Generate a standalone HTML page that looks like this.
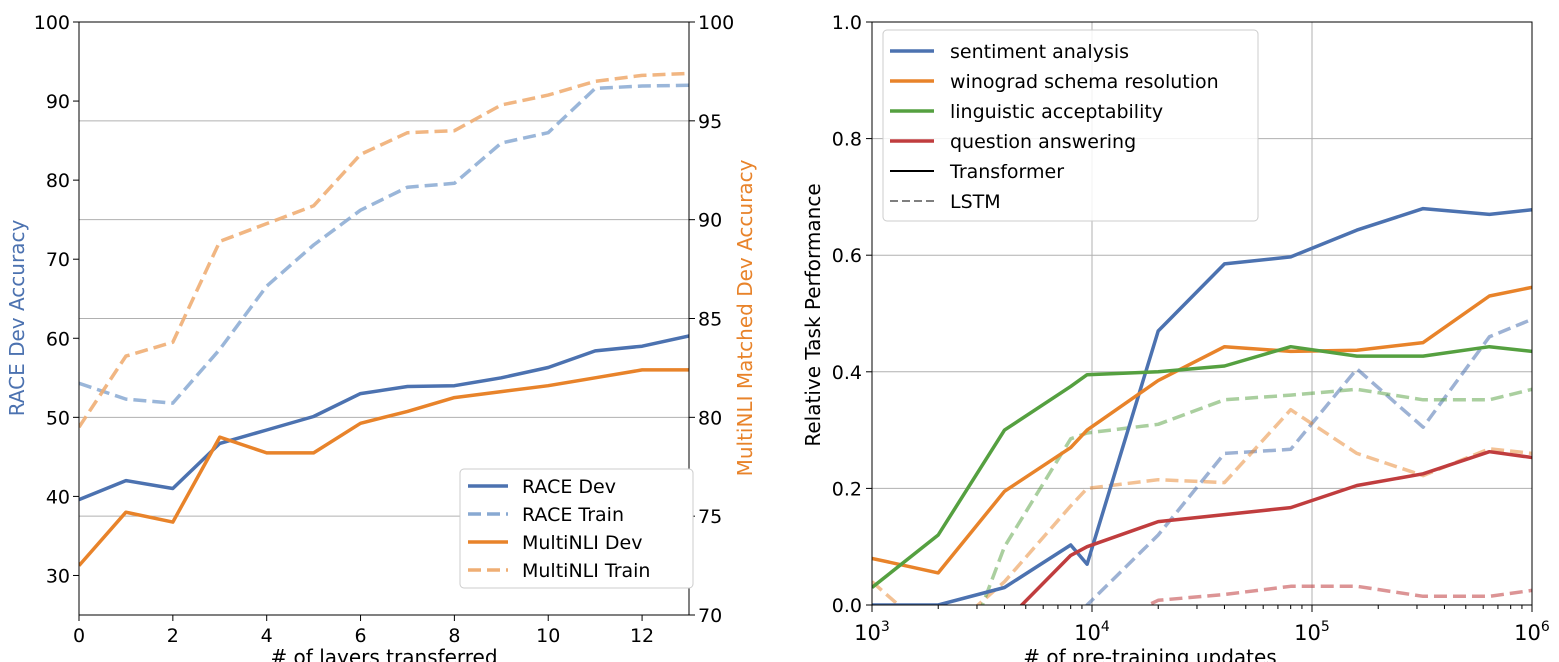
<!DOCTYPE html>
<html><head><meta charset="utf-8"><style>
body{margin:0;background:#fff;overflow:hidden;}
svg text{font-family:"DejaVu Sans","Liberation Sans",sans-serif;fill:#000;}
</style></head><body>
<svg id="c" width="1559" height="662" xmlns="http://www.w3.org/2000/svg" style="display:block">
<defs>
<clipPath id="clipL"><rect x="79" y="22" width="610" height="593"/></clipPath>
<clipPath id="clipR"><rect x="872" y="22" width="660" height="583"/></clipPath>
</defs>
<g id="left"></g>
<g id="right"></g>
</svg>
<script>
const layers=[0,1,2,3,4,5,6,7,8,9,10,11,12,13];
const raceDev=[39.6,42,41,46.7,48.4,50.1,53,53.9,54,55,56.3,58.4,59,60.3];
const raceTrain=[54.3,52.3,51.8,58.6,66.6,71.8,76.2,79.1,79.6,84.7,86,91.6,91.9,92];
const mnliDev=[72.5,75.2,74.7,79.0,78.2,78.2,79.7,80.3,81.0,81.3,81.6,82.0,82.4,82.4];
const mnliTrain=[79.5,83.1,83.8,88.9,89.8,90.7,93.3,94.4,94.5,95.8,96.3,97,97.3,97.4];
const leftTicks=[30,40,50,60,70,80,90,100];
const rightTicks=[70,75,80,85,90,95,100];
const xTicksL=[0,2,4,6,8,10,12];

const updates=[1000,2000,4000,8000,9500,20000,40000,80000,160000,320000,640000,1000000];
const sentT=[0,0,0.03,0.103,0.07,0.47,0.585,0.597,0.643,0.68,0.67,0.678];
const winoT=[0.08,0.055,0.195,0.27,0.3,0.385,0.443,0.435,0.437,0.45,0.53,0.545];
const lingT=[0.03,0.12,0.3,0.375,0.395,0.4,0.41,0.443,0.427,0.427,0.443,0.435];
const qaT=[null,null,-0.03,0.085,0.1,0.143,0.155,0.167,0.205,0.225,0.263,0.253];
const sentL=[null,null,null,-0.1,0,0.12,0.26,0.267,0.405,0.305,0.46,0.49];
const winoL=[0.04,-0.06,0.04,0.17,0.2,0.215,0.21,0.335,0.26,0.222,0.268,0.26];
const lingL=[null,-0.2,0.1,0.285,0.295,0.31,0.352,0.36,0.37,0.352,0.352,0.37];
const qaL=[null,null,null,-0.08,-0.05,0.008,0.018,0.032,0.032,0.015,0.015,0.025];
const yTicksR=[0,0.2,0.4,0.6,0.8,1.0];
const xDecades=[3,4,5,6];

const NS="http://www.w3.org/2000/svg";
function mk(p,t,a){const e=document.createElementNS(NS,t);for(const k in a)e.setAttribute(k,a[k]);p.appendChild(e);return e;}
function txt(p,x,y,s,anchor,size,extra){const e=mk(p,'text',Object.assign({x:x,y:y,'text-anchor':anchor,'font-size':size},extra||{}));e.textContent=s;return e;}

// LEFT
const L=document.getElementById('left');
const lx=v=>79+v*(610/13), ly=v=>22+(100-v)*(593/75), ry=v=>22+(100-v)*(593/30);
rightTicks.slice(1,-1).forEach(v=>{const g=mk(L,'line',{x1:79,x2:689,y1:ry(v),y2:ry(v),stroke:'#b0b0b0','stroke-width':1});

});
function series(p,xs,ys,xf,yf,color,dash,op,name,clip){
 let d='';let pen=false;ys.forEach((v,i)=>{if(v===null){pen=false;return;}d+=(pen?'L':'M')+xf(xs[i]).toFixed(1)+','+yf(v).toFixed(1);pen=true;});
 const e=mk(p,'path',{d:d,fill:'none',stroke:color,'stroke-width':3.5,'stroke-opacity':op,'clip-path':'url(#'+clip+')','stroke-linejoin':'round'});
 if(dash)e.setAttribute('stroke-dasharray','13,6');
 
 
}
const BL='#4c72b0',OR='#e8832a',GR='#55a040',RD='#c03d3e';
series(L,layers,raceTrain,lx,ly,'#88a9d2',true,0.85,'race-train-line','clipL');
series(L,layers,mnliTrain,lx,ry,'#efae74',true,0.9,'multinli-train-line','clipL');
series(L,layers,raceDev,lx,ly,BL,false,1,'race-dev-line','clipL');
series(L,layers,mnliDev,lx,ry,OR,false,1,'multinli-dev-line','clipL');
mk(L,'rect',{x:79,y:22,width:610,height:593,fill:'none',stroke:'#000','stroke-width':1});
leftTicks.forEach(v=>{mk(L,'line',{x1:73,x2:79,y1:ly(v),y2:ly(v),stroke:'#000'});txt(L,70,ly(v)+7,String(v),'end',19);});
rightTicks.forEach(v=>{mk(L,'line',{x1:689,x2:695,y1:ry(v),y2:ry(v),stroke:'#000'});txt(L,698,ry(v)+7,String(v),'start',19);});
xTicksL.forEach(v=>{mk(L,'line',{x1:lx(v),x2:lx(v),y1:615,y2:621,stroke:'#000'});txt(L,lx(v),642,String(v),'middle',19);});
txt(L,384,664,'# of layers transferred','middle',20,{});
txt(L,24,318,'RACE Dev Accuracy','middle',20,{transform:'rotate(-90 24 318)',style:'fill:#4c72b0',});
txt(L,752,318,'MultiNLI Matched Dev Accuracy','middle',20,{transform:'rotate(-90 752 318)',style:'fill:#e8832a',});
const lg=mk(L,'g',{});
mk(lg,'rect',{x:460,y:469,width:233,height:119,fill:'#fff',stroke:'#ccc',rx:4});
[['RACE Dev',BL,false],['RACE Train','#88a9d2',true],['MultiNLI Dev',OR,false],['MultiNLI Train','#efae74',true]].forEach((e,i)=>{
 const y=486+i*28;const l=mk(lg,'line',{x1:468,x2:508,y1:y,y2:y,stroke:e[1],'stroke-width':3.5});if(e[2])l.setAttribute('stroke-dasharray','13,6');
 txt(lg,522,y+7,e[0],'start',19);});

// RIGHT
const R=document.getElementById('right');
const rx=v=>872+(Math.log10(v)-3)*220, rY=v=>605-v*583;
yTicksR.forEach(v=>{const g=mk(R,'line',{x1:872,x2:1532,y1:rY(v),y2:rY(v),stroke:'#b0b0b0'});

});
xDecades.forEach(d=>{mk(R,'line',{x1:rx(10**d),x2:rx(10**d),y1:22,y2:605,stroke:'#b0b0b0'});});
series(R,updates,sentL,rx,rY,BL,true,0.55,'sentiment-lstm-line','clipR');
series(R,updates,winoL,rx,rY,OR,true,0.5,'winograd-lstm-line','clipR');
series(R,updates,lingL,rx,rY,GR,true,0.5,'linguistic-lstm-line','clipR');
series(R,updates,qaL,rx,rY,RD,true,0.55,'qa-lstm-line','clipR');
series(R,updates,sentT,rx,rY,BL,false,1,'sentiment-transformer-line','clipR');
series(R,updates,winoT,rx,rY,OR,false,1,'winograd-transformer-line','clipR');
series(R,updates,lingT,rx,rY,GR,false,1,'linguistic-transformer-line','clipR');
series(R,updates,qaT,rx,rY,RD,false,1,'qa-transformer-line','clipR');
mk(R,'rect',{x:872,y:22,width:660,height:583,fill:'none',stroke:'#000'});
yTicksR.forEach(v=>{mk(R,'line',{x1:866,x2:872,y1:rY(v),y2:rY(v),stroke:'#000'});txt(R,862,rY(v)+7,v.toFixed(1),'end',19);});
for(let d=3;d<6;d++)for(let m=2;m<10;m++){const x=rx(m*10**d);mk(R,'line',{x1:x,x2:x,y1:605,y2:609,stroke:'#000'});}
xDecades.forEach(d=>{const x=rx(10**d);mk(R,'line',{x1:x,x2:x,y1:605,y2:612,stroke:'#000'});
 const t=txt(R,x,640,'10','middle',21);const s=document.createElementNS(NS,'tspan');s.setAttribute('dy','-9');s.setAttribute('font-size','14');s.textContent=String(d);t.appendChild(s);});
txt(R,1150,664,'# of pre-training updates','middle',20,{});
txt(R,820,315,'Relative Task Performance','middle',20,{transform:'rotate(-90 820 315)',});
const rg=mk(R,'g',{});
mk(rg,'rect',{x:883,y:30,width:375,height:191,fill:'#fff','fill-opacity':0.85,stroke:'#ccc',rx:4});
[['sentiment analysis',BL,0,1],['winograd schema resolution',OR,0,1],['linguistic acceptability',GR,0,1],['question answering',RD,0,1],['Transformer','#000',0,1],['LSTM','#000',1,0.5]].forEach((e,i)=>{
 const y=51+i*30;const l=mk(rg,'line',{x1:890,x2:934,y1:y,y2:y,stroke:e[1],'stroke-width':i>3?2:3.5,'stroke-opacity':e[3]});if(e[2])l.setAttribute('stroke-dasharray','8,4');
 txt(rg,950,y+7,e[0],'start',19);});
</script>
</body></html>
